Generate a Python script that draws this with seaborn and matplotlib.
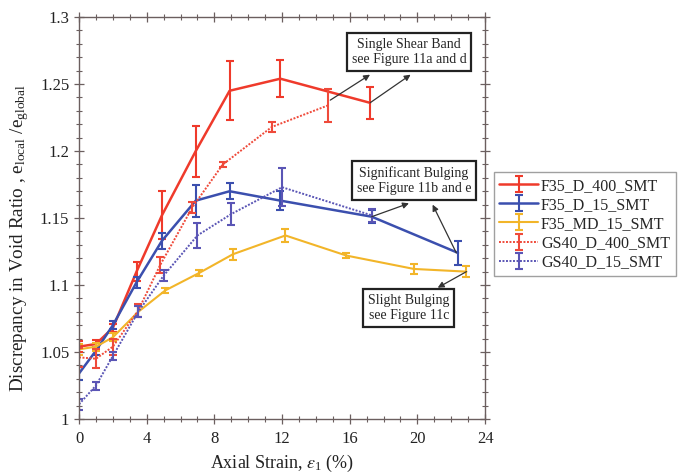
import numpy as np
import pandas as pd
import matplotlib
matplotlib.use("Agg")
import matplotlib.pyplot as plt
from matplotlib.ticker import MultipleLocator
import seaborn as sns

# Void-ratio discrepancy versus axial strain for five specimens
series_names = ["F35_D_400_SMT", "F35_D_15_SMT", "F35_MD_15_SMT",
                "GS40_D_400_SMT", "GS40_D_15_SMT"]

f35_d_400_x = [0.0, 1.0, 2.0, 3.4, 4.9, 6.9, 8.9, 11.9, 17.2]
f35_d_400_y = [1.054, 1.056, 1.068, 1.110, 1.152, 1.200, 1.245, 1.254, 1.236]
f35_d_400_e = [0.004, 0.003, 0.003, 0.007, 0.018, 0.019, 0.022, 0.014, 0.012]

f35_d_15_x = [0.0, 1.0, 2.0, 3.4, 4.9, 6.9, 8.9, 11.9, 17.3, 22.4]
f35_d_15_y = [1.034, 1.051, 1.070, 1.102, 1.133, 1.163, 1.170, 1.163, 1.151, 1.124]
f35_d_15_e = [0.005, 0.003, 0.003, 0.004, 0.006, 0.012, 0.006, 0.007, 0.005, 0.009]

f35_md_15_x = [0.0, 1.0, 2.0, 3.5, 5.1, 7.1, 9.1, 12.2, 15.8, 19.8, 22.9]
f35_md_15_y = [1.052, 1.054, 1.061, 1.080, 1.096, 1.109, 1.123, 1.137, 1.122, 1.112, 1.110]
f35_md_15_e = [0.004, 0.003, 0.003, 0.004, 0.002, 0.002, 0.004, 0.005, 0.002, 0.004, 0.004]

gs40_d_400_x = [0.0, 1.0, 2.0, 3.5, 4.8, 6.7, 8.5, 11.4, 14.7]
gs40_d_400_y = [1.046, 1.045, 1.054, 1.081, 1.115, 1.158, 1.190, 1.218, 1.234]
gs40_d_400_e = [0.007, 0.007, 0.006, 0.005, 0.006, 0.004, 0.002, 0.004, 0.012]

gs40_d_15_x = [0.0, 1.0, 2.0, 3.5, 5.0, 7.0, 9.0, 12.0, 17.3]
gs40_d_15_y = [1.011, 1.025, 1.047, 1.080, 1.107, 1.137, 1.153, 1.173, 1.152]
gs40_d_15_e = [0.004, 0.003, 0.003, 0.004, 0.004, 0.009, 0.008, 0.014, 0.005]

series_x = [f35_d_400_x, f35_d_15_x, f35_md_15_x, gs40_d_400_x, gs40_d_15_x]
series_y = [f35_d_400_y, f35_d_15_y, f35_md_15_y, gs40_d_400_y, gs40_d_15_y]
series_e = [f35_d_400_e, f35_d_15_e, f35_md_15_e, gs40_d_400_e, gs40_d_15_e]

colors = {"F35_D_400_SMT": "#ef3a2b", "F35_D_15_SMT": "#3b4fae",
          "F35_MD_15_SMT": "#f2b529", "GS40_D_400_SMT": "#ef4a3a",
          "GS40_D_15_SMT": "#5a55b5"}
dashes = {"F35_D_400_SMT": "", "F35_D_15_SMT": "", "F35_MD_15_SMT": "",
          "GS40_D_400_SMT": (1, 0.8), "GS40_D_15_SMT": (1, 0.8)}
widths = {"F35_D_400_SMT": 1.8, "F35_D_15_SMT": 1.8, "F35_MD_15_SMT": 1.5,
          "GS40_D_400_SMT": 1.4, "GS40_D_15_SMT": 1.4}

frames = []
for name, xs, ys, es in zip(series_names, series_x, series_y, series_e):
    frames.append(pd.DataFrame({"strain": xs, "ratio": ys, "err": es, "series": name}))
df = pd.concat(frames, ignore_index=True)

sns.set_style("ticks")
plt.rcParams["font.family"] = ["Liberation Serif", "DejaVu Serif"]
plt.rcParams["mathtext.fontset"] = "stix"
plt.rcParams["mathtext.default"] = "regular"

frame_color = "#6b5f5f"
fig = plt.figure(figsize=(6.83, 4.74), dpi=100)
ax = fig.add_axes([0.1157, 0.116, 0.5945, 0.848])

handles = []
for name in series_names:
    sub = df[df["series"] == name]
    sns.lineplot(data=sub, x="strain", y="ratio", ax=ax, color=colors[name],
                 linewidth=widths[name], dashes=False, legend=False, sort=False,
                 estimator=None)
    line = ax.lines[-1]
    if dashes[name]:
        line.set_dashes(dashes[name])
    eb = ax.errorbar(sub["strain"], sub["ratio"], yerr=sub["err"], fmt="none",
                     ecolor=colors[name], elinewidth=1.5, capsize=3.2,
                     capthick=1.5)
    handles.append((line, eb))

ax.set_xlim(0, 24)
ax.set_ylim(1.0, 1.3)
ax.xaxis.set_minor_locator(MultipleLocator(1))
ax.yaxis.set_minor_locator(MultipleLocator(0.01))
ax.set_xticks(np.arange(0, 25, 4))
ax.set_xticklabels([str(v) for v in range(0, 25, 4)])
ax.set_yticks([1.0, 1.05, 1.1, 1.15, 1.2, 1.25, 1.3])
ax.set_yticklabels(["1", "1.05", "1.1", "1.15", "1.2", "1.25", "1.3"])
ax.tick_params(which="both", direction="inout", top=True, right=True,
               colors=frame_color, labelcolor="#222222", labelsize=12)
ax.tick_params(which="major", length=7, width=0.9)
ax.tick_params(axis="x", which="major", pad=5)
ax.tick_params(which="minor", length=4, width=0.8)
for sp in ax.spines.values():
    sp.set_color(frame_color)
    sp.set_linewidth(1.0)

ax.set_xlabel(r"Axial Strain, $\mathit{\varepsilon}_{1}$ (%)", fontsize=13,
              color="#222222", labelpad=4)
ax.set_ylabel(r"Discrepancy in Void Ratio , e$_{local}$ /e$_{global}$",
              fontsize=13.8, color="#222222")
ax.yaxis.set_label_coords(-0.118, 0.45)

box = dict(boxstyle="square,pad=0.35", fc="white", ec="#222222", lw=1.6)
arrow = dict(arrowstyle="-|>", color="#333333", lw=0.9, mutation_scale=9,
             shrinkA=0, shrinkB=0)

ax.text(19.5, 1.274, "Single Shear Band\nsee Figure 11a and d", ha="center",
        va="center", fontsize=10, bbox=box, linespacing=1.2)
ax.annotate("", xy=(17.2, 1.257), xytext=(14.85, 1.238), arrowprops=arrow)
ax.annotate("", xy=(19.6, 1.257), xytext=(17.2, 1.236), arrowprops=arrow)

ax.text(19.8, 1.178, "Significant Bulging\nsee Figure 11b and e", ha="center",
        va="center", fontsize=10, bbox=box, linespacing=1.2)
ax.annotate("", xy=(19.5, 1.161), xytext=(17.3, 1.151), arrowprops=arrow)
ax.annotate("", xy=(20.9, 1.160), xytext=(22.3, 1.124), arrowprops=arrow)

ax.text(19.5, 1.083, "Slight Bulging\nsee Figure 11c", ha="center",
        va="center", fontsize=10, bbox=box, linespacing=1.2)
ax.annotate("", xy=(21.2, 1.098), xytext=(22.9, 1.110), arrowprops=arrow)

leg = fig.legend(handles, series_names, loc="upper left",
                 bbox_to_anchor=(0.723, 0.637), borderaxespad=0,
                 fontsize=11.5, frameon=True, fancybox=False,
                 edgecolor="#888888", handlelength=2.4, handletextpad=0.2,
                 borderpad=0.35, labelspacing=0.2, numpoints=1)
leg.get_frame().set_linewidth(1.0)

fig.savefig("out.png", dpi=100)
